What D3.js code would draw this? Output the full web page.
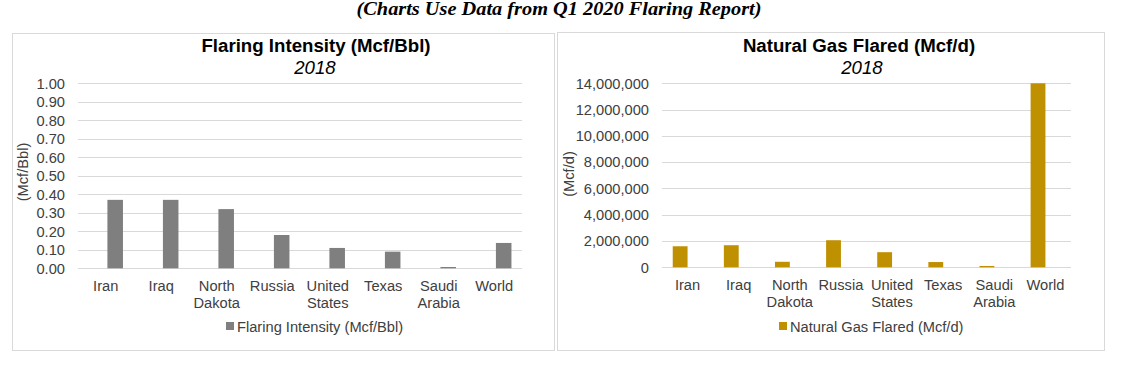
<!DOCTYPE html>
<html>
<head>
<meta charset="utf-8">
<script src="https://cdn.jsdelivr.net/npm/d3@7"></script>
<style>
  html, body { margin: 0; padding: 0; background: #fff; }
  svg { display: block; }
  text { font-family: "Liberation Sans", Arial, sans-serif; }
</style>
</head>
<body>
<svg id="chart" width="1123" height="367"></svg>
<script>
// ---- Data ----
const categories = ["Iran", "Iraq", "North Dakota", "Russia", "United States", "Texas", "Saudi Arabia", "World"];
const intensityValues = [0.37, 0.37, 0.32, 0.18, 0.11, 0.09, 0.007, 0.137];
const flaredValues = [1600000, 1680000, 420000, 2060000, 1150000, 400000, 100000, 14000000];
const intensityTicks = [0, 0.1, 0.2, 0.3, 0.4, 0.5, 0.6, 0.7, 0.8, 0.9, 1.0];
const flaredTicks = [0, 2000000, 4000000, 6000000, 8000000, 10000000, 12000000, 14000000];

const svg = d3.select("#chart");

// Page heading
svg.append("text")
  .attr("x", 559).attr("y", 15)
  .attr("text-anchor", "middle")
  .style("font-family", "'Liberation Serif', 'Times New Roman', serif")
  .style("font-weight", "bold").style("font-style", "italic")
  .style("font-size", "18px").attr("fill", "#000")
  .attr("textLength", 405).attr("lengthAdjust", "spacingAndGlyphs")
  .text("(Charts Use Data from Q1 2020 Flaring Report)");

function drawPanel(cfg) {
  const g = svg.append("g");
  // panel border
  g.append("rect")
    .attr("x", cfg.box[0] + 0.5).attr("y", cfg.box[1] + 0.5)
    .attr("width", cfg.box[2]).attr("height", cfg.box[3])
    .attr("fill", "#fff").attr("stroke", "#d9d9d9").attr("stroke-width", 1);

  const x = d3.scaleBand().domain(categories).range([cfg.plot[0], cfg.plot[1]]).padding(0);
  const y = d3.scaleLinear().domain([0, cfg.max]).range([cfg.plot[3], cfg.plot[2]]);

  // gridlines
  g.append("g").selectAll("line").data(cfg.ticks).join("line")
    .attr("x1", cfg.plot[0]).attr("x2", cfg.plot[1])
    .attr("y1", d => Math.round(y(d)) + 0.5).attr("y2", d => Math.round(y(d)) + 0.5)
    .attr("stroke", "#d9d9d9").attr("stroke-width", 1);

  // y axis labels
  const yAxis = d3.axisLeft(y).tickValues(cfg.ticks).tickFormat(cfg.fmt).tickSize(0).tickPadding(13);
  const ya = g.append("g").attr("transform", `translate(${cfg.plot[0]},0)`).call(yAxis);
  ya.select(".domain").remove();
  ya.selectAll("text").style("font-size", "14.67px").attr("fill", "#404040")
    .style("font-family", "'Liberation Sans', Arial, sans-serif");

  // bars
  g.append("g").selectAll("rect").data(cfg.values).join("rect")
    .attr("x", (d, i) => x(categories[i]) + x.bandwidth() * cfg.barOffset)
    .attr("width", x.bandwidth() * cfg.barWidth)
    .attr("y", d => y(d))
    .attr("height", d => y(0) - y(d))
    .attr("fill", cfg.color);

  // category labels (wrapped at spaces)
  const xl = g.append("g").selectAll("text").data(categories).join("text")
    .attr("text-anchor", "middle")
    .attr("x", d => x(d) + x.bandwidth() / 2)
    .attr("y", cfg.catY)
    .style("font-size", "14.67px").attr("fill", "#404040");
  xl.each(function(d) {
    const parts = d.split(" ");
    const t = d3.select(this);
    parts.forEach((p, k) => {
      t.append("tspan").attr("x", x(d) + x.bandwidth() / 2).attr("dy", k === 0 ? 0 : 17).text(p);
    });
  });

  // title
  g.append("text").attr("x", cfg.titleX).attr("y", 52).attr("text-anchor", "middle")
    .style("font-size", "18.67px").style("font-weight", "bold").attr("fill", "#000")
    .text(cfg.title);
  g.append("text").attr("x", cfg.subX).attr("y", 74).attr("text-anchor", "middle")
    .style("font-size", "18.67px").style("font-style", "italic").attr("fill", "#000")
    .text("2018");

  // y axis title
  g.append("text")
    .attr("transform", `translate(${cfg.yTitle[0]},${cfg.yTitle[1]}) rotate(-90)`)
    .attr("text-anchor", "middle").attr("dy", "0.35em")
    .style("font-size", "14.67px").attr("fill", "#404040")
    .text(cfg.yLabel);

  // legend
  const lg = g.append("g");
  const lt = lg.append("text").attr("x", cfg.legendX + 11).attr("y", 332)
    .style("font-size", "14.67px").attr("fill", "#404040").text(cfg.legend);
  lg.append("rect").attr("x", cfg.legendX).attr("y", 322).attr("width", 8).attr("height", 8)
    .attr("fill", cfg.color);
}

drawPanel({
  box: [12, 33, 542, 317],
  plot: [78, 522, 83.3, 268.3],
  max: 1.0, ticks: intensityTicks, fmt: d3.format(".2f"),
  values: intensityValues, color: "#7f7f7f",
  barOffset: 0.53, barWidth: 0.28,
  catY: 291,
  title: "Flaring Intensity (Mcf/Bbl)", titleX: 316, subX: 315,
  yLabel: "(Mcf/Bbl)", yTitle: [22.5, 172],
  legend: "Flaring Intensity (Mcf/Bbl)", legendX: 226
});

drawPanel({
  box: [557, 32, 547, 318],
  plot: [662, 1071, 83.3, 267.3],
  max: 14000000, ticks: flaredTicks, fmt: d3.format(","),
  values: flaredValues, color: "#bf9000",
  barOffset: 0.21, barWidth: 0.29,
  catY: 290,
  title: "Natural Gas Flared (Mcf/d)", titleX: 859, subX: 862,
  yLabel: "(Mcf/d)", yTitle: [568.5, 174],
  legend: "Natural Gas Flared (Mcf/d)", legendX: 779
});
</script>
</body>
</html>
